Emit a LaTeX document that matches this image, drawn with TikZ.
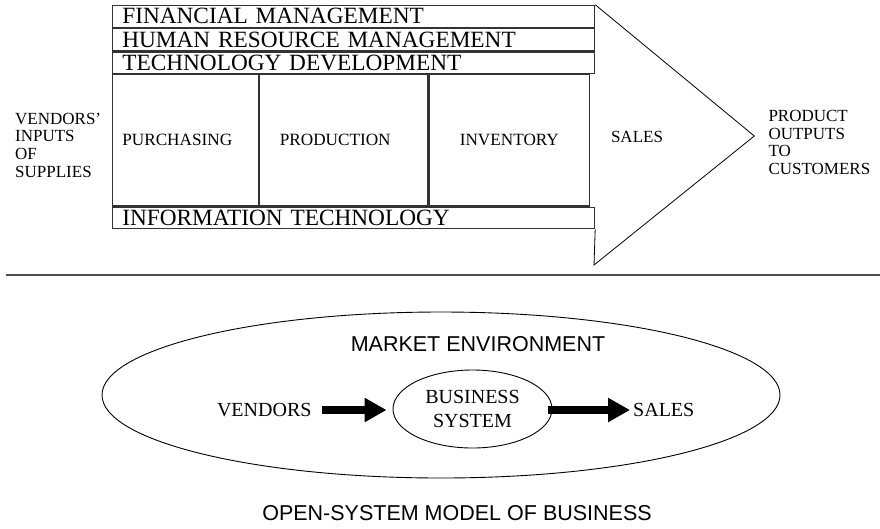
\documentclass[tikz,border=0pt]{standalone}
\usepackage{fontspec}
\setmainfont{Liberation Serif}
\newfontfamily\sansfam{Liberation Sans}
\usetikzlibrary{arrows.meta, positioning, shapes.geometric}

\begin{document}
\begin{tikzpicture}[
  x=1pt, y=-1pt,
  band/.style={draw=black!80, line width=1.2pt, minimum width=482.3pt, inner sep=0pt, text width=462.3pt, align=left, font=\fontsize{23.3}{25}\selectfont},
  cell/.style={draw=black!80, line width=1.2pt, minimum height=131.4pt, inner sep=0pt, font=\fontsize{17.2}{19}\selectfont},
  lbl/.style={inner sep=0pt, align=left, font=\fontsize{17}{17.7}\selectfont},
  ring/.style={draw, ellipse, line width=0.9pt, inner sep=0pt},
  heading/.style={inner sep=0pt, font=\sansfam\fontsize{21.5}{24}\selectfont},
  fatarrow/.style={-{Triangle[length=22pt, width=23pt]}, line width=8pt}
]
\useasboundingbox (0,0) rectangle (880,528);
\node[band, minimum height=22pt, anchor=north west] (fin) at (111.7,4.7) {FINANCIAL MANAGEMENT};
\node[band, minimum height=22.3pt, below=0pt of fin] (hrm) {HUMAN RESOURCE MANAGEMENT};
\node[band, minimum height=21.3pt, below=0pt of hrm] (tech) {TECHNOLOGY DEVELOPMENT};
\node[cell, minimum width=146pt, text width=126pt, align=left, below=0pt of tech.south west, anchor=north west] (purch) {PURCHASING};
\node[cell, minimum width=168.3pt, text width=127.7pt, align=left, right=0pt of purch] (prod) {PRODUCTION};
\node[cell, minimum width=160.7pt, right=0pt of prod] (inv) {INVENTORY};
\node[band, minimum height=21.6pt, below=0pt of purch.south west, anchor=north west] (it) {INFORMATION TECHNOLOGY};
\coordinate (tip) at (754.3,136);
\coordinate (tail) at (594,265);
\draw[line width=0.8pt] (fin.north east) -- (tip) -- (tail) -- (it.south east);
\node[lbl] (sales) at (637,137) {SALES};
\node[lbl, anchor=west] (inputs) at (15,145) {VENDORS'\\INPUTS\\OF\\SUPPLIES};
\node[lbl, anchor=west] (outputs) at (768.3,142.5) {PRODUCT\\OUTPUTS\\TO\\CUSTOMERS};

\draw[black!70, line width=2pt] (6,275) -- (880,275);

\node[ring, minimum width=678pt, minimum height=166pt] (market) at (441,395) {};
\node[heading] (envlbl) at (478,344) {MARKET ENVIRONMENT};
\node[ring, minimum width=159pt, minimum height=78pt, align=center, font=\fontsize{20}{24}\selectfont] (biz) at (472.5,409) {BUSINESS\\SYSTEM};
\node[inner sep=0pt, font=\fontsize{20}{24}\selectfont, anchor=east] (vend) at (311.7,410) {VENDORS};
\node[inner sep=0pt, font=\fontsize{20}{24}\selectfont, anchor=west] (sold) at (633,410) {SALES};
\draw[fatarrow, shorten <=10pt, shorten >=6pt] (vend.east) -- (vend.east -| biz.west);
\draw[fatarrow, shorten <=-4pt, shorten >=3pt] (biz.east |- sold.west) -- (sold.west);
\node[heading] (title) at (457,513.4) {OPEN-SYSTEM MODEL OF BUSINESS};
\end{tikzpicture}
\end{document}
